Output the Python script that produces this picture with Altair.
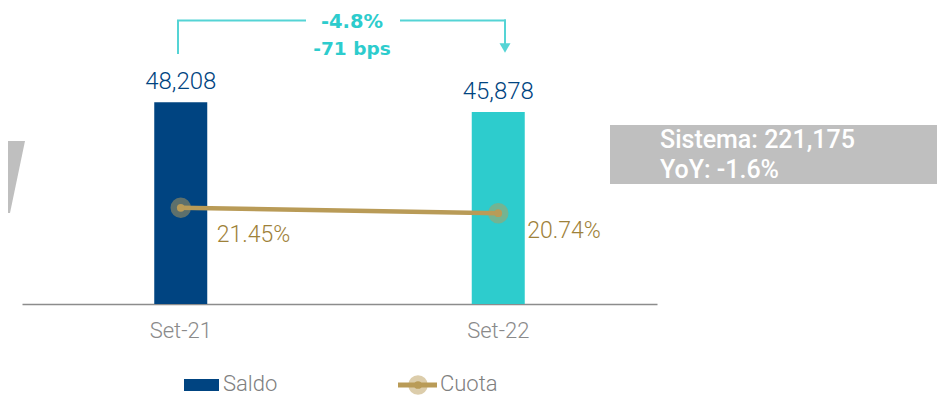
import altair as alt
import pandas as pd

# ---- data ----
categories = ["Set-21", "Set-22"]
saldo = [48208, 45878]
cuota = [21.45, 20.74]
cuota_labels = ["21.45%", "20.74%"]
legend_items = ["Saldo", "Cuota"]
var_pct = "-4.8%"
var_bps = "-71 bps"
sistema_lines = ["Sistema: 221,175", "YoY: -1.6%"]

df = pd.DataFrame({"periodo": categories, "saldo": saldo,
                   "cuota": cuota, "cuota_lbl": cuota_labels})

# ---- styles ----
BLUE = "#004481"
AQUA = "#2DCCCD"
GOLD = "#B99B57"
GOLD_TXT = "#9E8139"
GREY_TXT = "#8A8A8A"
BOX = "#BFBFBF"
ANN = "#55D4D5"
FONT = "Roboto"

x_enc = alt.X("periodo:N", sort=categories,
              scale=alt.Scale(paddingInner=0, paddingOuter=0),
              axis=alt.Axis(title=None, labelAngle=0, ticks=False, labelPadding=16,
                            labelFontSize=22, labelFont=FONT, labelFontWeight=300,
                            labelColor=GREY_TXT, domainColor="#8C8C8C",
                            domainWidth=1.5, grid=False))
y_saldo = alt.Y("saldo:Q", scale=alt.Scale(domain=[0, 60000]), axis=None)
y_cuota = alt.Y("cuota:Q", scale=alt.Scale(domain=[8.8, 41.8]), axis=None)

base = alt.Chart(df)

bars = base.mark_bar(size=53).encode(
    x=x_enc, y=y_saldo,
    color=alt.Color("periodo:N", scale=alt.Scale(domain=categories, range=[BLUE, AQUA]),
                    legend=None))
bar_lbl = base.mark_text(baseline="alphabetic", dy=-13, fontSize=24, font=FONT,
                         fontWeight=300, color=BLUE).encode(
    x=x_enc, y=y_saldo, text=alt.Text("saldo:Q", format=",.0f"))

halo = base.mark_circle(color=GOLD, opacity=0.5, size=420).encode(x=x_enc, y=y_cuota)
line = base.mark_line(color=GOLD, strokeWidth=4.5).encode(x=x_enc, y=y_cuota)
dot = base.mark_circle(color=GOLD, opacity=1, size=60).encode(x=x_enc, y=y_cuota)
lbl1 = base.transform_filter(alt.datum.periodo == categories[0]).mark_text(
    align="left", baseline="alphabetic", dx=36, dy=34, fontSize=23, font=FONT,
    fontWeight=300, color=GOLD_TXT).encode(x=x_enc, y=y_cuota, text="cuota_lbl:N")
lbl2 = base.transform_filter(alt.datum.periodo == categories[1]).mark_text(
    align="left", baseline="alphabetic", dx=29, dy=25, fontSize=23, font=FONT,
    fontWeight=300, color=GOLD_TXT).encode(x=x_enc, y=y_cuota, text="cuota_lbl:N")

one = alt.Data(values=[{"k": 1}])


def seg(x1, y1, x2, y2):
    return alt.Chart(one).mark_rule(color=ANN, strokeWidth=2).encode(
        x=alt.value(x1), y=alt.value(y1), x2=alt.value(x2), y2=alt.value(y2))


def txt(s, xv, yv, **kw):
    return alt.Chart(one).mark_text(**kw).encode(
        x=alt.value(xv), y=alt.value(yv), text=alt.value(s))


def shape(path, xv, yv, color):
    return alt.Chart(one).mark_point(shape=path, size=4, filled=True, opacity=1,
                                     strokeWidth=0, color=color).encode(
        x=alt.value(xv), y=alt.value(yv))


# top bracket annotation
bracket = [
    seg(156, 1, 156, -32.5),
    seg(155, -32.5, 284, -32.5),
    seg(378, -32.5, 484, -32.5),
    seg(483, -33.5, 483, -9),
    alt.Chart(one).mark_point(shape="triangle-down", filled=True, size=121, opacity=1,
                              color=ANN, strokeWidth=0).encode(
        x=alt.value(483), y=alt.value(-5)),
    txt(var_pct, 330, -25.3, align="center", baseline="alphabetic", font="DejaVu Sans",
        fontWeight="bold", fontSize=19.5, color=AQUA),
    txt(var_bps, 330, 2, align="center", baseline="alphabetic", font="DejaVu Sans",
        fontWeight="bold", fontSize=18.5, color=AQUA),
]

# grey decorative boxes
boxes = [
    shape("M0,0L25,0L10,72L0,72Z", -22, 88, BOX),
    shape("M0,0L335,0L330,59L0,59Z", 588, 72, BOX),
    txt(sistema_lines[0], 638, 95, align="left", baseline="alphabetic", font=FONT,
        fontWeight=500, fontSize=25, color="white"),
    txt(sistema_lines[1], 638, 125.3, align="left", baseline="alphabetic", font=FONT,
        fontWeight=500, fontSize=25, color="white"),
]

# legend
LY = 332  # legend centre line (chart px)
legend = [
    alt.Chart(one).mark_rect(color=BLUE).encode(
        x=alt.value(162), x2=alt.value(197), y=alt.value(LY - 6), y2=alt.value(LY + 6)),
    txt(legend_items[0], 201, LY + 5.7, align="left", baseline="alphabetic", font=FONT,
        fontWeight=300, fontSize=22, color="#808080"),
    alt.Chart(one).mark_rule(color=GOLD, strokeWidth=5).encode(
        x=alt.value(376), x2=alt.value(415), y=alt.value(LY)),
    alt.Chart(one).mark_circle(color=GOLD, opacity=0.5, size=380).encode(
        x=alt.value(396), y=alt.value(LY)),
    alt.Chart(one).mark_circle(color=GOLD, opacity=1, size=60).encode(
        x=alt.value(396), y=alt.value(LY)),
    txt(legend_items[1], 418, LY + 5.7, align="left", baseline="alphabetic", font=FONT,
        fontWeight=300, fontSize=22, color="#808080"),
]

chart = alt.layer(
    *boxes, bars, bar_lbl, halo, line, dot, lbl1, lbl2, *bracket, *legend
).resolve_scale(y="independent").properties(
    width=635, height=251,
    autosize=alt.AutoSizeParams(type="none"),
    padding={"left": 14, "top": 45, "right": 280, "bottom": 92},
    background="white",
).configure_view(stroke=None)

chart.save("out.html", embed_options={"renderer": "svg", "actions": False})
